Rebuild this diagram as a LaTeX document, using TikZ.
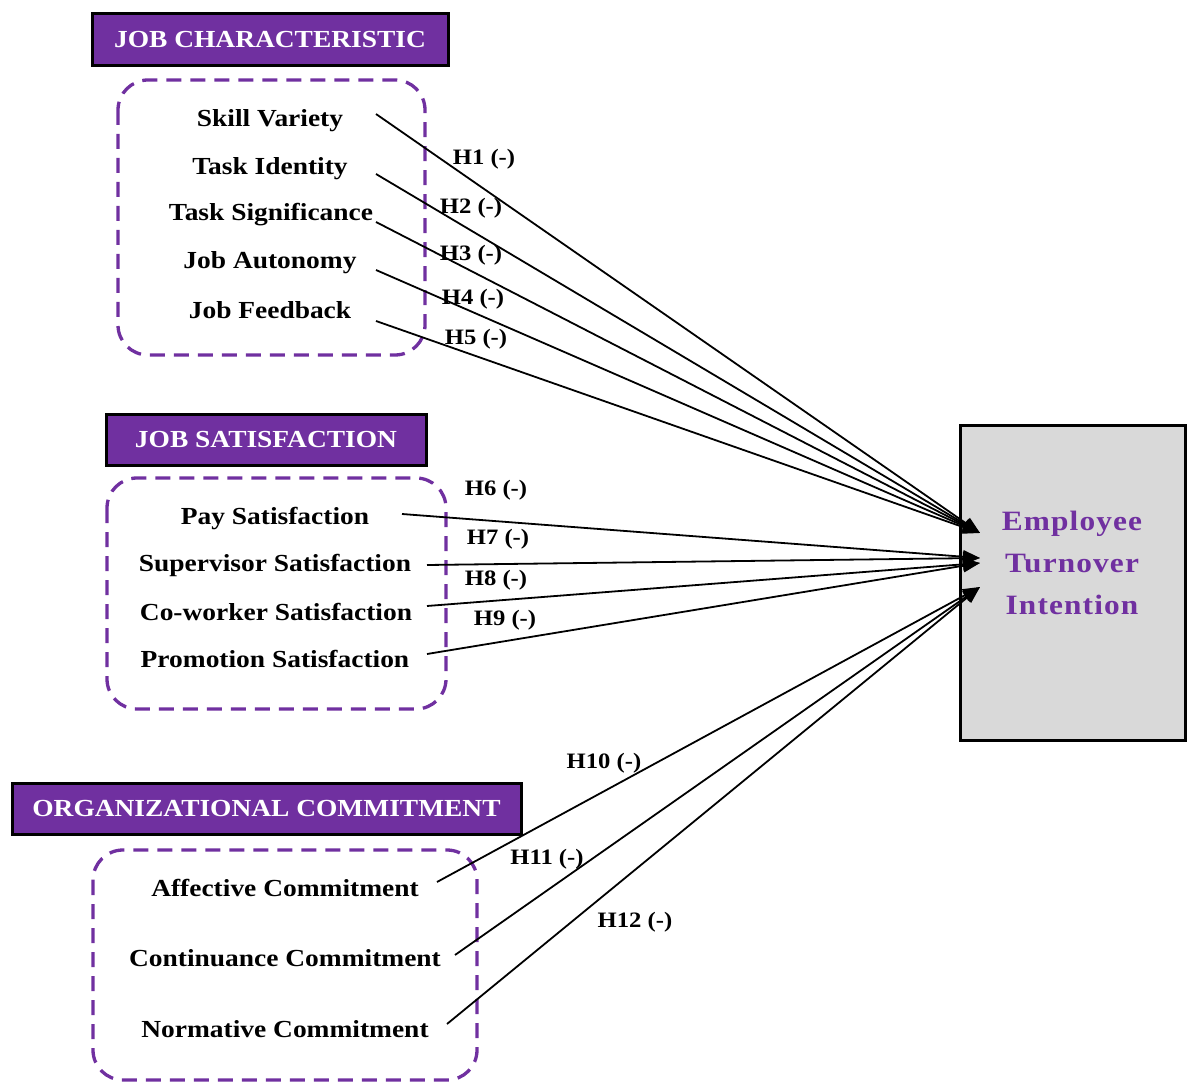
\documentclass[tikz,border=0pt]{standalone}
\usepackage{fontspec}
\setmainfont{Liberation Serif}[FakeStretch=1.12]
\usepackage{tikz}
\usetikzlibrary{arrows.meta, positioning}
\definecolor{hdrpurple}{RGB}{112,48,160}
\definecolor{boxgray}{RGB}{217,217,217}
\begin{document}
\begin{tikzpicture}[x=1pt,y=1pt,yscale=-1,xscale=1,
  hdr/.style={draw=black,line width=3pt,fill=hdrpurple,text=white,font=\fontsize{24.5}{28}\selectfont\bfseries,inner sep=0pt},
  grp/.style={draw=hdrpurple,line width=3.3pt,dash pattern=on 15pt off 9pt,rounded corners=30pt},
  item/.style={font=\fontsize{24.5}{28}\selectfont\bfseries,inner sep=0.75pt},
  hyp/.style={font=\fontsize{22}{25}\selectfont\bfseries,inner sep=0.75pt},
  link/.style={line width=1.8pt,-{Triangle[length=17pt,width=13pt]}}]
\useasboundingbox (0,0) rectangle (1187,1083);

% Headers
\node [hdr,minimum width=356,minimum height=52] (jc) at (270,40) {JOB CHARACTERISTIC};
\node [hdr,minimum width=320,minimum height=51] (js) at (266,440) {JOB SATISFACTION};
\node [hdr,minimum width=509,minimum height=51] (oc) at (266.5,808.5) {ORGANIZATIONAL COMMITMENT};

% Dashed groups
\draw [grp] (118,80) rectangle (425,355);
\draw [grp] (107,478) rectangle (446,709);
\draw [grp] (93,850) rectangle (477,1080);

% Dependent variable
\node [draw=black,line width=3pt,fill=boxgray,minimum width=225,minimum height=314,inner sep=0pt] (eti) at (1072.5,583) {};
\node [font=\fontsize{28}{42}\selectfont\bfseries\addfontfeature{LetterSpace=4},text=hdrpurple,align=center] (etitext) at (1072,563) {Employee\\Turnover\\Intention};

% Text Node
\node [item] (sv) at (270,121) {Skill Variety};
\node [item] (ti) at (270,169) {Task Identity};
\node [item] (ts) at (271,215) {Task Significance};
\node [item] (ja) at (270,263) {Job Autonomy};
\node [item] (jf) at (270,310) {Job Feedback};
% Text Node
\node [item] (ps) at (275,519) {Pay Satisfaction};
\node [item] (ss) at (275,565) {Supervisor Satisfaction};
\node [item] (cs) at (276,612) {Co-worker Satisfaction};
\node [item] (pr) at (275,659) {Promotion Satisfaction};
% Text Node
\node [item] (ac) at (285,888) {Affective Commitment};
\node [item] (cc) at (285,958) {Continuance Commitment};
\node [item] (nc) at (285,1029) {Normative Commitment};

% line ends
\coordinate (sv-o) at (376,114);
\coordinate (ti-o) at (376,174);
\coordinate (ts-o) at (376,222);
\coordinate (ja-o) at (376,270);
\coordinate (jf-o) at (376,321);
\coordinate (ps-o) at (402,514);
\coordinate (ss-o) at (427,565);
\coordinate (cs-o) at (427,606);
\coordinate (pr-o) at (427,654);
\coordinate (ac-o) at (437,882);
\coordinate (cc-o) at (455,955);
\coordinate (nc-o) at (447,1024);
\coordinate (in-a) at (980,533);
\coordinate (in-b) at (980,558);
\coordinate (in-c) at (980,563);
\coordinate (in-d) at (980,587);

%Straight Lines
\draw [link] (sv-o) -- (in-a);
\draw [link] (ti-o) -- (in-a);
\draw [link] (ts-o) -- (in-a);
\draw [link] (ja-o) -- (in-a);
\draw [link] (jf-o) -- (in-a);
%Straight Lines
\draw [link] (ps-o) -- (in-b);
\draw [link] (ss-o) -- (in-b);
\draw [link] (cs-o) -- (in-c);
\draw [link] (pr-o) -- (in-c);
%Straight Lines
\draw [link] (ac-o) -- (in-d);
\draw [link] (cc-o) -- (in-d);
\draw [link] (nc-o) -- (in-d);

% Hypotheses
\node [hyp] (h1) at (484,159) {H1 (-)};
\node [hyp] (h2) at (471,208) {H2 (-)};
\node [hyp] (h3) at (471,255) {H3 (-)};
\node [hyp] (h4) at (473,299) {H4 (-)};
\node [hyp] (h5) at (476,339) {H5 (-)};
\node [hyp] (h6) at (496,490) {H6 (-)};
\node [hyp] (h7) at (498,539) {H7 (-)};
\node [hyp] (h8) at (496,580) {H8 (-)};
\node [hyp] (h9) at (505,620) {H9 (-)};
\node [hyp] (h10) at (604,763) {H10 (-)};
\node [hyp] (h11) at (547,859) {H11 (-)};
\node [hyp] (h12) at (635,922) {H12 (-)};

\end{tikzpicture}
\end{document}
